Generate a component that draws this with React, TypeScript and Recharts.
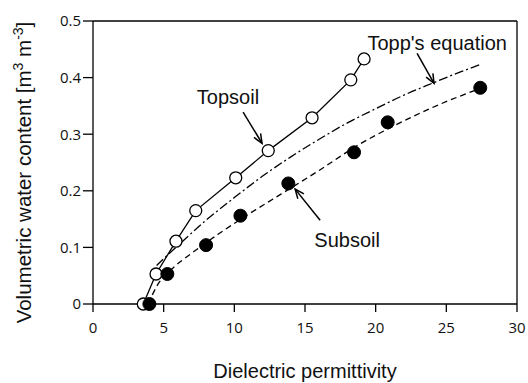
import { LineChart, Line, XAxis, YAxis, ReferenceLine, ReferenceDot } from 'recharts';

// values
const topsoilEps = [3.56, 4.46, 5.87, 7.27, 10.1, 12.4, 15.5, 18.24, 19.18];
const topsoilTheta = [0, 0.053, 0.111, 0.165, 0.223, 0.271, 0.329, 0.396, 0.433];

const subsoilEps = [3.99, 5.26, 8.0, 10.43, 13.82, 18.47, 20.85, 27.4];
const subsoilTheta = [0, 0.053, 0.104, 0.156, 0.213, 0.268, 0.321, 0.382];

const subsoilFitEps = [3.9, 4.6, 5.5, 7, 8.9, 10.4, 12, 14, 16, 18.7, 21, 24, 27.4];
const subsoilFitTheta = [0, 0.035, 0.06, 0.09, 0.124, 0.149, 0.174, 0.205, 0.236, 0.28, 0.311, 0.347, 0.381];

const toppEps = [4.5, 5, 6, 8, 10, 12, 14, 16, 18, 20, 22, 24, 26, 27.4];
const toppTheta = [0.068, 0.08, 0.103, 0.148, 0.188, 0.226, 0.26, 0.291, 0.32, 0.345, 0.369, 0.39, 0.41, 0.423];

const xTicks = [0, 5, 10, 15, 20, 25, 30];
const yTicks = [0, 0.1, 0.2, 0.3, 0.4, 0.5];

const toPoints = (xs: number[], ys: number[]) => xs.map((x, i) => ({ x, y: ys[i] }));

const topsoil = toPoints(topsoilEps, topsoilTheta);
const subsoil = toPoints(subsoilEps, subsoilTheta);
const subsoilFit = toPoints(subsoilFitEps, subsoilFitTheta);
const topp = toPoints(toppEps, toppTheta);

const labelFont = '"Liberation Sans", Arial, sans-serif';
const tickFont = '"Open Sans", sans-serif';

const Arrow = (p: any) => {
  const { x1, y1, x2, y2 } = p;
  const a = Math.atan2(y2 - y1, x2 - x1);
  const len = 10;
  const spread = 0.4;
  const ax = x2 - len * Math.cos(a - spread);
  const ay = y2 - len * Math.sin(a - spread);
  const bx = x2 - len * Math.cos(a + spread);
  const by = y2 - len * Math.sin(a + spread);
  return (
    <g stroke="#000" strokeWidth={1.5} fill="none">
      <line x1={x1} y1={y1} x2={x2} y2={y2} />
      <polyline points={`${ax},${ay} ${x2},${y2} ${bx},${by}`} />
    </g>
  );
};

const annotation = (text: string) => (p: any) => (
  <text
    x={p.cx}
    y={p.cy}
    textAnchor="middle"
    dominantBaseline="central"
    fontFamily={labelFont}
    fontSize={20}
    fill="#111"
  >
    {text}
  </text>
);

const YTitle = ({ viewBox }: any) => {
  const x = viewBox.x + 31;
  const y = viewBox.y + viewBox.height / 2 + 10;
  return (
    <text
      x={x}
      y={y}
      transform={`rotate(-90 ${x} ${y})`}
      textAnchor="middle"
      fontFamily={labelFont}
      fontSize={20.5}
      fill="#111"
    >
      Volumetric water content [m<tspan dy={-8} fontSize={14}>3</tspan>
      <tspan dy={8}> m</tspan>
      <tspan dy={-8} fontSize={14}>-3</tspan>
      <tspan dy={8}>]</tspan>
    </text>
  );
};

const XTitle = ({ viewBox }: any) => (
  <text
    x={viewBox.x + viewBox.width / 2}
    y={viewBox.y + 74}
    textAnchor="middle"
    fontFamily={labelFont}
    fontSize={20}
    fill="#111"
  >
    Dielectric permittivity
  </text>
);

export default function App() {
  return (
    <div style={{ position: 'absolute', left: 0, top: 0, background: '#fff' }}>
      <LineChart width={528} height={383} margin={{ top: 21, right: 11, left: 0, bottom: 0 }}>
        <XAxis
          type="number"
          dataKey="x"
          domain={[0, 30]}
          ticks={xTicks}
          height={79}
          stroke="#000"
          strokeWidth={1.3}
          tickSize={8}
          tickMargin={10}
          tick={{ fill: '#111', fontFamily: tickFont, fontSize: 15 }}
          label={<XTitle />}
        />
        <YAxis
          type="number"
          dataKey="y"
          domain={[0, 0.5]}
          ticks={yTicks}
          width={93}
          stroke="#000"
          strokeWidth={1.3}
          tickSize={10}
          tickMargin={2}
          tick={{ fill: '#111', fontFamily: tickFont, fontSize: 15 }}
          label={<YTitle />}
        />
        <ReferenceLine y={0.5} stroke="#000" strokeWidth={1.3} />
        <ReferenceLine x={30} stroke="#000" strokeWidth={1.3} />

        <Line
          data={topp}
          dataKey="y"
          type="monotone"
          stroke="#000"
          strokeWidth={1.3}
          strokeDasharray="9 3 2 3"
          dot={false}
          isAnimationActive={false}
        />
        <Line
          data={subsoilFit}
          dataKey="y"
          type="monotone"
          stroke="#000"
          strokeWidth={1.3}
          strokeDasharray="6 4"
          dot={false}
          isAnimationActive={false}
        />
        <Line
          data={topsoil}
          dataKey="y"
          type="linear"
          stroke="#000"
          strokeWidth={1.3}
          dot={{ r: 6, fill: '#fff', stroke: '#000', strokeWidth: 1.3 }}
          isAnimationActive={false}
        />
        <Line
          data={subsoil}
          dataKey="y"
          type="linear"
          stroke="none"
          dot={{ r: 6.5, fill: '#000', stroke: '#000', strokeWidth: 1 }}
          isAnimationActive={false}
        />

        <ReferenceLine segment={[{ x: 10.62, y: 0.339 }, { x: 11.96, y: 0.284 }]} shape={<Arrow />} />
        <ReferenceLine segment={[{ x: 22.93, y: 0.443 }, { x: 24.13, y: 0.39 }]} shape={<Arrow />} />
        <ReferenceLine segment={[{ x: 16.07, y: 0.148 }, { x: 14.3, y: 0.203 }]} shape={<Arrow />} />

        <ReferenceDot x={9.55} y={0.366} shape={annotation('Topsoil')} />
        <ReferenceDot x={24.35} y={0.461} shape={annotation("Topp's equation")} />
        <ReferenceDot x={17.98} y={0.113} shape={annotation('Subsoil')} />
      </LineChart>
    </div>
  );
}
